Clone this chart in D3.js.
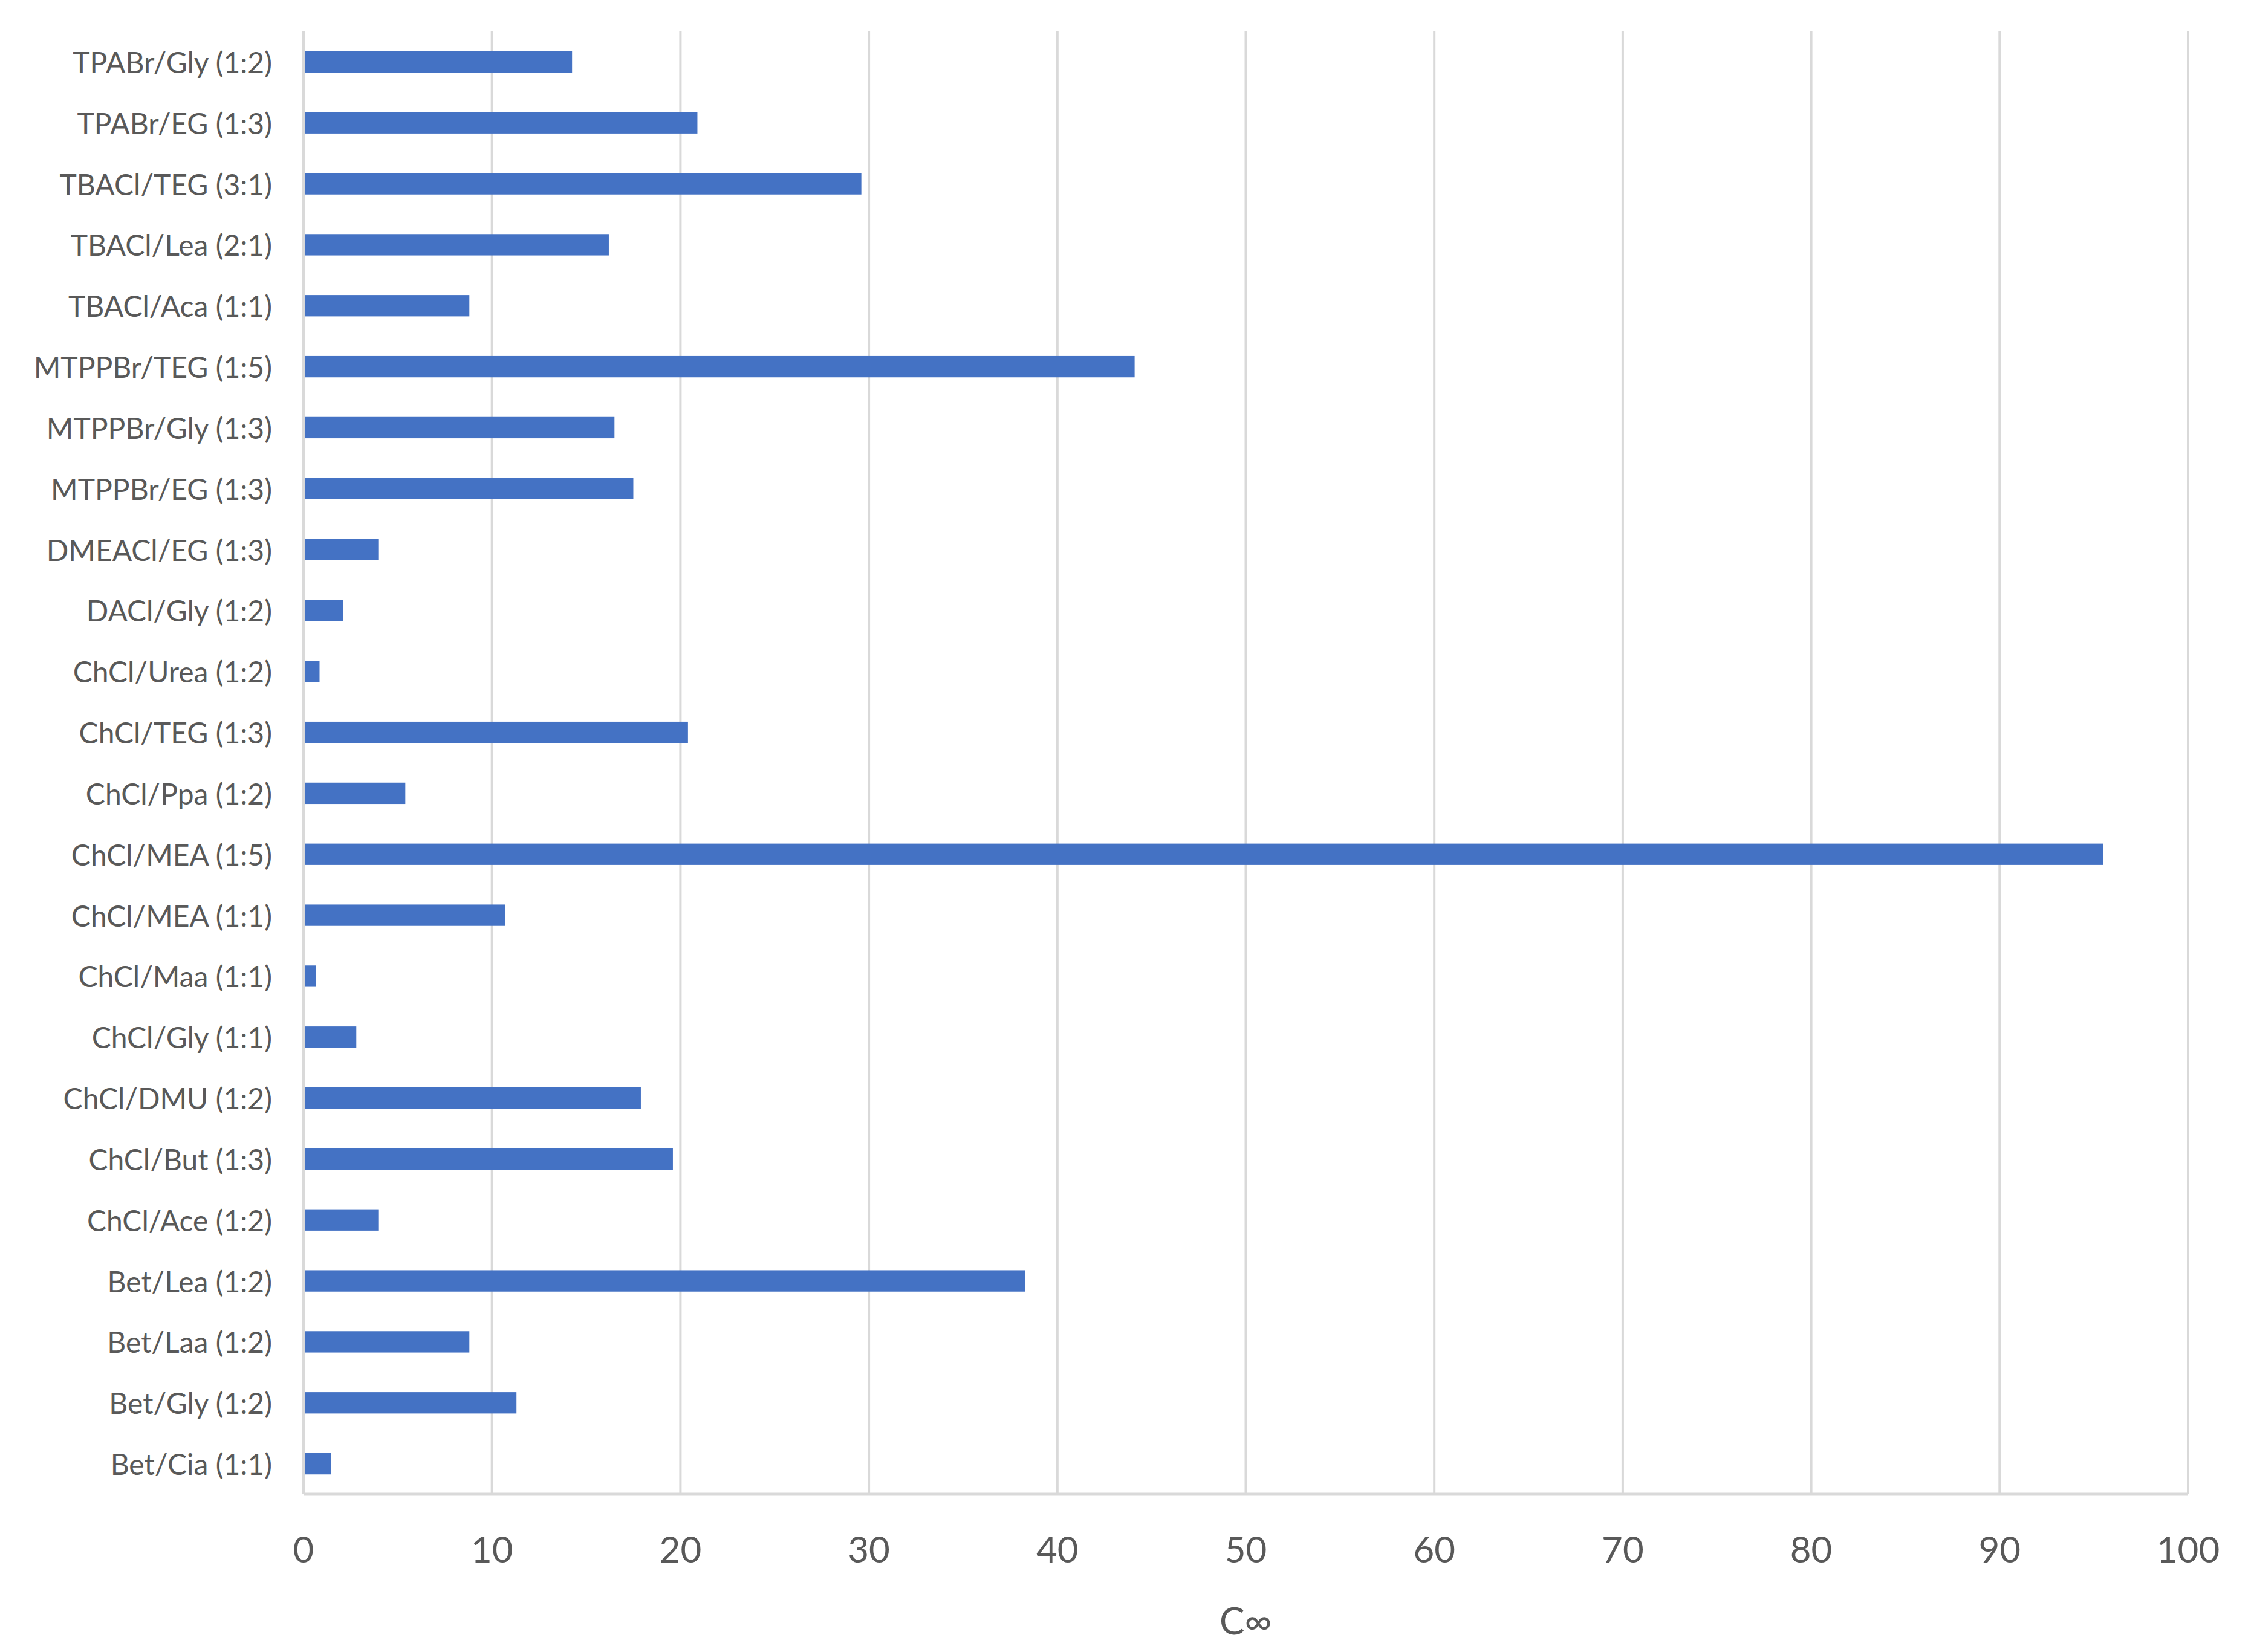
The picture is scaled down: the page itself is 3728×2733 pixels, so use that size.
<!DOCTYPE html>
<html>
<head>
<meta charset="utf-8">
<script src="https://cdn.jsdelivr.net/npm/d3@7"></script>
<style>
  body { margin: 0; background: #fff; }
  text { font-family: Lato, "Open Sans", sans-serif; fill: #595959; }
</style>
</head>
<body>
<svg id="chart" width="3728" height="2733"></svg>
<script>
// categories top to bottom
const categories = [
  'TPABr/Gly (1:2)', 'TPABr/EG (1:3)', 'TBACl/TEG (3:1)', 'TBACl/Lea (2:1)', 'TBACl/Aca (1:1)',
  'MTPPBr/TEG (1:5)', 'MTPPBr/Gly (1:3)', 'MTPPBr/EG (1:3)', 'DMEACl/EG (1:3)', 'DACl/Gly (1:2)',
  'ChCl/Urea (1:2)', 'ChCl/TEG (1:3)', 'ChCl/Ppa (1:2)', 'ChCl/MEA (1:5)', 'ChCl/MEA (1:1)',
  'ChCl/Maa (1:1)', 'ChCl/Gly (1:1)', 'ChCl/DMU (1:2)', 'ChCl/But (1:3)', 'ChCl/Ace (1:2)',
  'Bet/Lea (1:2)', 'Bet/Laa (1:2)', 'Bet/Gly (1:2)', 'Bet/Cia (1:1)'
];
const values = [
  14.25, 20.9, 29.6, 16.2, 8.8,
  44.1, 16.5, 17.5, 4.0, 2.1,
  0.85, 20.4, 5.4, 95.5, 10.7,
  0.65, 2.8, 17.9, 19.6, 4.0,
  38.3, 8.8, 11.3, 1.45
];
const xTicks = [0, 10, 20, 30, 40, 50, 60, 70, 80, 90, 100];
const xTitle = 'C\u221E';

const svg = d3.select('#chart');
const plotLeft = 502, plotRight = 3619, plotTop = 52, plotBottom = 2472;

const x = d3.scaleLinear().domain([0, 100]).range([plotLeft, plotRight]);
const y = d3.scaleBand().domain(categories).range([plotTop, plotBottom]).paddingInner(0.65).paddingOuter(0.325);

// gridlines
svg.append('g').selectAll('line').data(xTicks).join('line')
  .attr('x1', d => x(d)).attr('x2', d => x(d))
  .attr('y1', plotTop).attr('y2', plotBottom)
  .attr('stroke', '#d9d9d9').attr('stroke-width', 4);

// bars
svg.append('g').selectAll('rect').data(categories).join('rect')
  .attr('x', x(0) + 2)
  .attr('y', d => y(d))
  .attr('width', (d, i) => x(values[i]) - x(0) - 2)
  .attr('height', y.bandwidth())
  .attr('fill', '#4472c4');

// bottom axis line
svg.append('line')
  .attr('x1', plotLeft).attr('x2', plotRight)
  .attr('y1', plotBottom).attr('y2', plotBottom)
  .attr('stroke', '#d9d9d9').attr('stroke-width', 5);

// x tick labels
svg.append('g').selectAll('text').data(xTicks).join('text')
  .attr('x', d => x(d)).attr('y', 2562)
  .attr('text-anchor', 'middle').attr('dominant-baseline', 'central')
  .attr('font-size', 60)
  .text(d => d);

// category labels
svg.append('g').selectAll('text').data(categories).join('text')
  .attr('x', 450).attr('y', d => y(d) + y.bandwidth() / 2)
  .attr('text-anchor', 'end').attr('dominant-baseline', 'central')
  .attr('font-size', 48)
  .text(d => d);

// axis title
svg.append('text')
  .attr('x', x(50)).attr('y', 2680)
  .attr('text-anchor', 'middle').attr('dominant-baseline', 'central')
  .attr('font-size', 62)
  .text(xTitle);
</script>
</body>
</html>
